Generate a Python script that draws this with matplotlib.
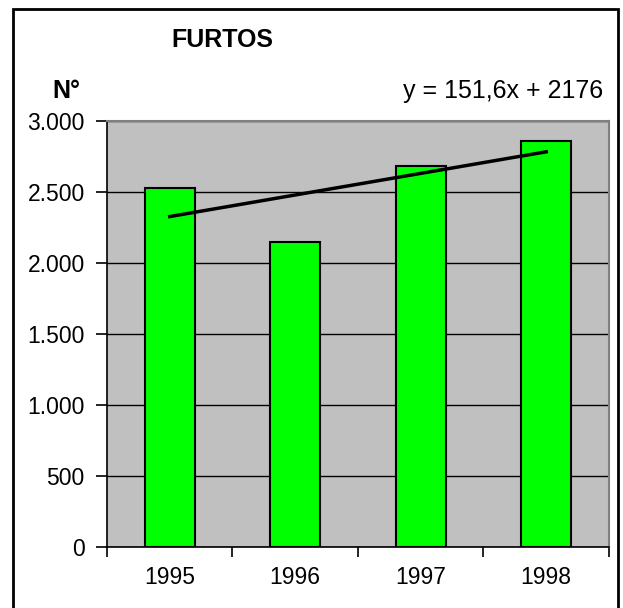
import numpy as np
import matplotlib
matplotlib.use('Agg')
import matplotlib.pyplot as plt
from matplotlib.patches import Rectangle
from matplotlib.ticker import FuncFormatter, FixedLocator

anos = ['1995', '1996', '1997', '1998']
furtos = [2530, 2150, 2680, 2860]
equacao = 'y = 151,6x + 2176'

plt.rcParams['font.family'] = ['Liberation Sans', 'DejaVu Sans']

fig = plt.figure(figsize=(6.23, 6.08), dpi=100)
ax = fig.add_axes([0.1717, 0.1003, 0.9775 - 0.1717, 0.801 - 0.1003])

# moldura externa
fig.patches.append(Rectangle((0.021, -0.05), 0.971, 1.035, transform=fig.transFigure,
                             fill=False, edgecolor='black', linewidth=2))

x = np.arange(1, len(anos) + 1)
ax.set_facecolor('#C0C0C0')
ax.set_axisbelow(True)
ax.yaxis.grid(True, color='black', linewidth=1)
ax.bar(x, furtos, width=0.4, color='#00FF00', edgecolor='black', linewidth=1.5, zorder=2)

# linha de tendencia
a, b = np.polyfit(x, furtos, 1)
ax.plot(x, a * x + b, color='black', linewidth=2.5, zorder=3)

ax.set_xlim(0.5, 4.5)
ax.set_ylim(0, 3000)
ax.set_yticks(range(0, 3001, 500))
ax.yaxis.set_major_formatter(FuncFormatter(lambda v, p: '{:,.0f}'.format(v).replace(',', '.')))

ax.xaxis.set_major_locator(FixedLocator([0.5, 1.5, 2.5, 3.5, 4.5]))
ax.xaxis.set_major_formatter(FuncFormatter(lambda v, p: ''))
ax.xaxis.set_minor_locator(FixedLocator(list(x)))
ax.set_xticklabels(anos, minor=True)
ax.tick_params(axis='x', which='minor', length=0, pad=14, labelsize=16.5)
ax.tick_params(axis='x', which='major', length=7, width=1.2, direction='out')
ax.tick_params(axis='y', length=8, width=1.2, direction='out', pad=8, labelsize=16.5)

for s in ['left', 'bottom']:
    ax.spines[s].set_color('black')
    ax.spines[s].set_linewidth(1.2)
for s in ['top', 'right']:
    ax.spines[s].set_color('#808080')
    ax.spines[s].set_linewidth(1.5)

fig.text(0.357, 0.935, 'FURTOS', fontsize=18, fontweight='bold', ha='center', va='center')
fig.text(0.106, 0.85, 'N°', fontsize=18, fontweight='bold', ha='center', va='center')
fig.text(0.968, 0.85, equacao, fontsize=18, ha='right', va='center')

fig.savefig('out.png', dpi=100)
